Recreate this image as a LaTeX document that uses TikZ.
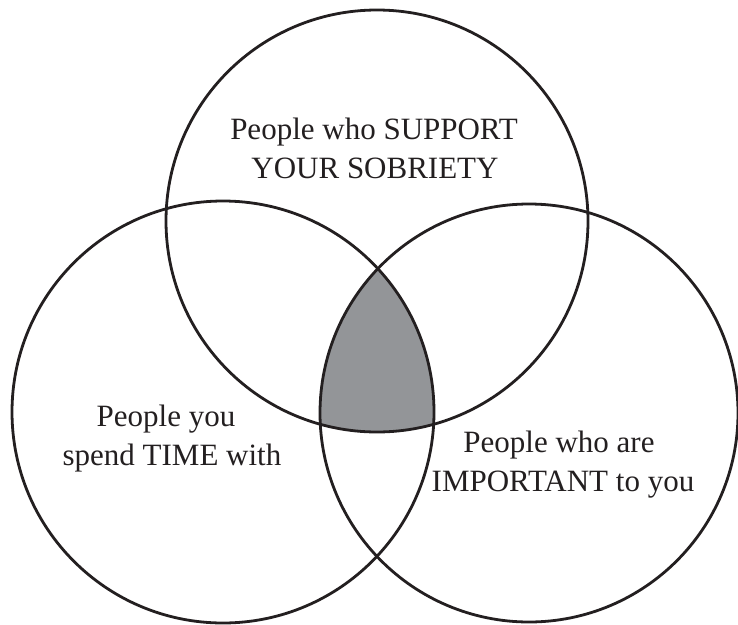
\documentclass[tikz,border=0pt]{standalone}
\usepackage{fontspec}
\setmainfont{Liberation Serif}
\begin{document}
\begin{tikzpicture}[x=1pt,y=-1pt,
  ring/.style={draw=ink,line width=2.8pt},
  setlabel/.style={anchor=base,inner sep=0pt,font=\fontsize{31}{40}\selectfont,text=ink}]
\definecolor{ink}{HTML}{231F20}
\definecolor{overlap}{HTML}{939598}
\useasboundingbox (0,0) rectangle (738,624);
% circle centres and radii
\coordinate (ctop) at (377,221);
\coordinate (cleft) at (223,412);
\coordinate (cright) at (529,413);
% shared region of all three sets
\begin{scope}
  \clip (cleft) circle[radius=211];
  \clip (cright) circle[radius=209];
  \fill[overlap] (ctop) circle[radius=211];
\end{scope}
\draw[ring] (ctop) circle[radius=211];
\draw[ring] (cleft) circle[radius=211];
\draw[ring] (cright) circle[radius=209];
% set labels
\node[setlabel] (t1) at (374,139) {People who SUPPORT};
\node[setlabel] (t2) at (375,178) {YOUR SOBRIETY};
\node[setlabel] (l1) at (166,426) {People you};
\node[setlabel] (l2) at (172,465) {spend TIME with};
\node[setlabel] (r1) at (559,452) {People who are};
\node[setlabel] (r2) at (563,491) {IMPORTANT to you};
\end{tikzpicture}
\end{document}
